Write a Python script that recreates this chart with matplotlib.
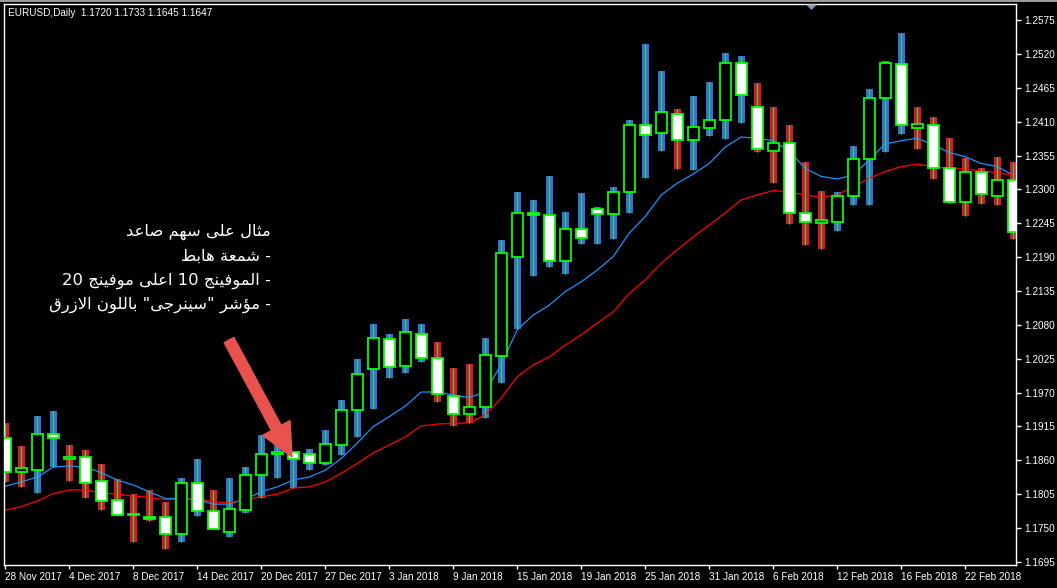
import matplotlib
matplotlib.use("Agg")
import matplotlib.pyplot as plt
from matplotlib.patches import FancyArrow, Polygon, Rectangle

# ---------------- data ----------------
tick_labels = ["28 Nov 2017", "4 Dec 2017", "8 Dec 2017", "14 Dec 2017", "20 Dec 2017",
               "27 Dec 2017", "3 Jan 2018", "9 Jan 2018", "15 Jan 2018", "19 Jan 2018",
               "25 Jan 2018", "31 Jan 2018", "6 Feb 2018", "12 Feb 2018", "16 Feb 2018",
               "22 Feb 2018"]

opens = [1.1897, 1.1841, 1.1845, 1.1902, 1.1862, 1.1865, 1.1826, 1.1796, 1.1773, 1.1768,
         1.1768, 1.1741, 1.1824, 1.1777, 1.1743, 1.1780, 1.1837, 1.1870, 1.1873, 1.1870,
         1.1856, 1.1885, 1.1941, 1.2008, 1.2057, 1.2014, 1.2065, 1.2027, 1.1965, 1.1935,
         1.1946, 1.2029, 1.2191, 1.2261, 1.2258, 1.2183, 1.2235, 1.2268, 1.2260, 1.2295,
         1.2404, 1.2391, 1.2422, 1.2380, 1.2399, 1.2412, 1.2505, 1.2433, 1.2363, 1.2375,
         1.2261, 1.2245, 1.2247, 1.2289, 1.2349, 1.2448, 1.2503, 1.2399, 1.2404, 1.2334,
         1.2280, 1.2328, 1.2290, 1.2315]
highs = [1.1920, 1.1883, 1.1932, 1.1940, 1.1885, 1.1877, 1.1854, 1.1830, 1.1805, 1.1812,
         1.1792, 1.1831, 1.1862, 1.1812, 1.1832, 1.1849, 1.1901, 1.1898, 1.1874, 1.1878,
         1.1909, 1.1958, 1.2025, 1.2081, 1.2065, 1.2090, 1.2081, 1.2052, 1.2010, 1.2016,
         1.2059, 1.2218, 1.2296, 1.2283, 1.2322, 1.2263, 1.2294, 1.2271, 1.2304, 1.2413,
         1.2536, 1.2492, 1.2431, 1.2452, 1.2474, 1.2521, 1.2516, 1.2473, 1.2434, 1.2405,
         1.2344, 1.2297, 1.2296, 1.2371, 1.2463, 1.2508, 1.2554, 1.2434, 1.2418, 1.2384,
         1.2351, 1.2335, 1.2353, 1.2344]
lows = [1.1825, 1.1817, 1.1807, 1.1849, 1.1827, 1.1799, 1.1779, 1.1770, 1.1727, 1.1761,
        1.1716, 1.1727, 1.1770, 1.1750, 1.1736, 1.1775, 1.1799, 1.1832, 1.1815, 1.1845,
        1.1853, 1.1869, 1.1898, 1.1944, 1.1994, 1.2002, 1.2019, 1.1954, 1.1915, 1.1921,
        1.1928, 1.1986, 1.2073, 1.2160, 1.2174, 1.2163, 1.2212, 1.2212, 1.2220, 1.2261,
        1.2319, 1.2363, 1.2333, 1.2331, 1.2386, 1.2382, 1.2407, 1.2360, 1.2311, 1.2243,
        1.2210, 1.2204, 1.2233, 1.2275, 1.2274, 1.2360, 1.2390, 1.2366, 1.2317, 1.2278,
        1.2257, 1.2277, 1.2275, 1.2220]
closes = [1.1841, 1.1847, 1.1902, 1.1896, 1.1865, 1.1824, 1.1794, 1.1771, 1.1772, 1.1764,
          1.1741, 1.1824, 1.1777, 1.1749, 1.1781, 1.1837, 1.1871, 1.1873, 1.1863, 1.1856,
          1.1886, 1.1941, 1.2001, 1.2058, 1.2012, 1.2068, 1.2027, 1.1967, 1.1936, 1.1946,
          1.2031, 1.2196, 1.2261, 1.2258, 1.2183, 1.2235, 1.2221, 1.2260, 1.2295, 1.2404,
          1.2389, 1.2425, 1.2380, 1.2401, 1.2412, 1.2506, 1.2453, 1.2365, 1.2375, 1.2261,
          1.2247, 1.2250, 1.2290, 1.2349, 1.2448, 1.2505, 1.2404, 1.2406, 1.2334, 1.2280,
          1.2329, 1.2292, 1.2315, 1.2230]
# synergy indicator state per bar: 1 = blue (up), 0 = red (down)
synergy = [0, 0, 1, 1, 0, 0, 0, 0, 0, 0, 0, 1, 1, 0, 1, 1, 1, 1, 1, 1,
           1, 1, 1, 1, 1, 1, 1, 0, 0, 0, 1, 1, 1, 1, 1, 1, 1, 1, 1, 1,
           1, 1, 0, 1, 1, 1, 1, 0, 0, 0, 0, 0, 1, 1, 1, 1, 1, 0, 0, 0,
           0, 0, 0, 0]
ma10 = [1.1818, 1.1825, 1.1833, 1.1849, 1.1851, 1.1849, 1.1840, 1.1828, 1.1820, 1.1809,
        1.1798, 1.1798, 1.1796, 1.1789, 1.1789, 1.1797, 1.1809, 1.1817, 1.1828, 1.1833,
        1.1844, 1.1863, 1.1888, 1.1915, 1.1931, 1.1948, 1.1971, 1.1971, 1.1966, 1.1962,
        1.1971, 1.2016, 1.2072, 1.2096, 1.2112, 1.2134, 1.2150, 1.2169, 1.2191, 1.2229,
        1.2256, 1.2291, 1.2310, 1.2325, 1.2342, 1.2369, 1.2385, 1.2383, 1.2379, 1.2362,
        1.2334, 1.2321, 1.2317, 1.2323, 1.2348, 1.2374, 1.2379, 1.2383, 1.2372, 1.2360,
        1.2353, 1.2342, 1.2337, 1.2323]
ma20 = [1.1779, 1.1785, 1.1794, 1.1806, 1.1812, 1.1812, 1.1807, 1.1805, 1.1802, 1.1800,
        1.1796, 1.1797, 1.1797, 1.1793, 1.1791, 1.1796, 1.1801, 1.1805, 1.1815, 1.1817,
        1.1825, 1.1839, 1.1855, 1.1872, 1.1885, 1.1898, 1.1916, 1.1919, 1.1920, 1.1921,
        1.1934, 1.1961, 1.1996, 1.2015, 1.2028, 1.2047, 1.2064, 1.2083, 1.2101, 1.2131,
        1.2153, 1.2180, 1.2202, 1.2223, 1.2242, 1.2262, 1.2283, 1.2291, 1.2298, 1.2296,
        1.2291, 1.2287, 1.2291, 1.2304, 1.2318, 1.2329, 1.2337, 1.2341, 1.2337, 1.2334,
        1.2333, 1.2330, 1.2327, 1.2323]
y_ticks = [1.2575, 1.2520, 1.2465, 1.2410, 1.2355, 1.2300, 1.2245, 1.2190, 1.2135,
           1.2080, 1.2025, 1.1970, 1.1915, 1.1860, 1.1805, 1.1750, 1.1695]
header = "EURUSD,Daily  1.1720 1.1733 1.1645 1.1647"
note_lines = ["مثال على سهم صاعد",
              "- شمعة هابط",
              "- الموفينج 10 اعلى موفينج 20",
              "- مؤشر \"سينرجى\" باللون الازرق"]

# ---------------- Arabic shaping (visual order) ----------------
AR = {
    'ا': (0xFE8D, 0xFE8E, None, None), 'أ': (0xFE83, 0xFE84, None, None),
    'ؤ': (0xFE85, 0xFE86, None, None), 'ب': (0xFE8F, 0xFE90, 0xFE91, 0xFE92),
    'ة': (0xFE93, 0xFE94, None, None), 'ت': (0xFE95, 0xFE96, 0xFE97, 0xFE98),
    'ث': (0xFE99, 0xFE9A, 0xFE9B, 0xFE9C), 'ج': (0xFE9D, 0xFE9E, 0xFE9F, 0xFEA0),
    'ح': (0xFEA1, 0xFEA2, 0xFEA3, 0xFEA4), 'د': (0xFEA9, 0xFEAA, None, None),
    'ر': (0xFEAD, 0xFEAE, None, None), 'ز': (0xFEAF, 0xFEB0, None, None),
    'س': (0xFEB1, 0xFEB2, 0xFEB3, 0xFEB4), 'ش': (0xFEB5, 0xFEB6, 0xFEB7, 0xFEB8),
    'ص': (0xFEB9, 0xFEBA, 0xFEBB, 0xFEBC), 'ط': (0xFEC1, 0xFEC2, 0xFEC3, 0xFEC4),
    'ع': (0xFEC9, 0xFECA, 0xFECB, 0xFECC), 'ف': (0xFED1, 0xFED2, 0xFED3, 0xFED4),
    'ق': (0xFED5, 0xFED6, 0xFED7, 0xFED8), 'ل': (0xFEDD, 0xFEDE, 0xFEDF, 0xFEE0),
    'م': (0xFEE1, 0xFEE2, 0xFEE3, 0xFEE4), 'ن': (0xFEE5, 0xFEE6, 0xFEE7, 0xFEE8),
    'ه': (0xFEE9, 0xFEEA, 0xFEEB, 0xFEEC), 'و': (0xFEED, 0xFEEE, None, None),
    'ى': (0xFEEF, 0xFEF0, None, None), 'ي': (0xFEF1, 0xFEF2, 0xFEF3, 0xFEF4),
    'LA': (0xFEFB, 0xFEFC, None, None),
}


def shape_word(word):
    chars = []
    i = 0
    while i < len(word):
        if word[i] == 'ل' and i + 1 < len(word) and word[i + 1] == 'ا':
            chars.append('LA')
            i += 2
        else:
            chars.append(word[i])
            i += 1
    out = []
    for k, ch in enumerate(chars):
        if ch not in AR:
            out.append(ch)
            continue
        prev = chars[k - 1] if k > 0 else None
        nxt = chars[k + 1] if k + 1 < len(chars) else None
        jp = prev in AR and AR[prev][2] is not None
        jn = nxt in AR and AR[ch][2] is not None
        iso, fin, ini, med = AR[ch]
        if jp and jn:
            code = med
        elif jp:
            code = fin
        elif jn:
            code = ini
        else:
            code = iso
        out.append(chr(code))
    return ''.join(reversed(out))


def visual(line):
    # right-to-left paragraph: words laid out from right to left,
    # letters of each Arabic word reversed and shaped, numbers kept as-is
    toks = []
    for t in line.split(' '):
        if any(c in AR for c in t):
            toks.append(shape_word(t))
        else:
            toks.append(t)
    return ' '.join(reversed(toks))


# ---------------- figure ----------------
W, H = 1057, 588
fig = plt.figure(figsize=(W / 100, H / 100), dpi=100, facecolor='black')
ax = fig.add_axes([4 / W, 23 / H, 1011.5 / W, 561 / H], facecolor='black')

n = len(opens)
xs = list(range(n))
bar_cols = ['#4169E1' if s == 1 else '#DC143C' for s in synergy]
ax.bar(xs, [h - l for h, l in zip(highs, lows)], bottom=lows, width=0.44,
       color=bar_cols, zorder=1, linewidth=0)
ax.plot(xs, ma10, color='#1E90FF', lw=0.9, zorder=2)
ax.plot(xs, ma20, color='#FF0000', lw=0.9, zorder=2)
ax.vlines(xs, lows, highs, color='#00FF00', lw=0.8, zorder=3)
body_bottom = [min(o, c) for o, c in zip(opens, closes)]
body_h = [max(abs(c - o), 0.00004) for o, c in zip(opens, closes)]
body_fc = ['black' if c > o else 'white' for o, c in zip(opens, closes)]
ax.bar(xs, body_h, bottom=body_bottom, width=0.66, facecolor=body_fc,
       edgecolor='#00FF00', linewidth=1.3, zorder=4)

ax.set_xlim(-0.08, 63.14)
ax.set_ylim(1.16901, 1.26010)

for sp in ax.spines.values():
    sp.set_color('white')
    sp.set_linewidth(1.0)

ax.yaxis.tick_right()
ax.set_yticks(y_ticks)
ax.set_yticklabels([f"{v:.4f}" for v in y_ticks])
ax.set_xticks(list(range(0, n, 4)))
ax.set_xticklabels(tick_labels, ha='left')
ax.tick_params(axis='y', colors='white', length=3.5, width=1, pad=3, labelsize=7.2,
               direction='out', right=True, left=False)
ax.tick_params(axis='x', colors='white', length=3, width=1, pad=2, labelsize=7.2,
               direction='out')
for lab in ax.get_xticklabels() + ax.get_yticklabels():
    lab.set_fontfamily('Liberation Sans')
    lab.set_color('white')

# header
fig.text(8 / W, 1 - 13 / H, header, color='white', fontsize=7.2,
         family='Liberation Sans', ha='left', va='center')

# gray top line and chart-shift triangle
fig.add_artist(Rectangle((0, 1 - 2 / H), 1, 2 / H, transform=fig.transFigure,
                         color='#9a9a9a', lw=0))
fig.add_artist(Polygon([[806 / W, 1 - 4.5 / H], [817 / W, 1 - 4.5 / H], [811.5 / W, 1 - 10 / H]],
                       closed=True, transform=fig.transFigure, color='#8a9aab', lw=0))

# annotation text (right-aligned block)
ys = [232, 256, 281, 305]
for line, yy in zip(note_lines, ys):
    fig.text(271 / W, 1 - yy / H, visual(line), color='white', fontsize=11.8,
             family=['DejaVu Sans'], ha='right', va='center')

# arrow (in figure pixels)
arr = FancyArrow(229, H - 340, 63, -117, width=11, head_width=31, head_length=33,
                 length_includes_head=True, color='#E8534D', transform=None, zorder=10)
fig.add_artist(arr)

fig.savefig('out.png', dpi=100, facecolor='black')
